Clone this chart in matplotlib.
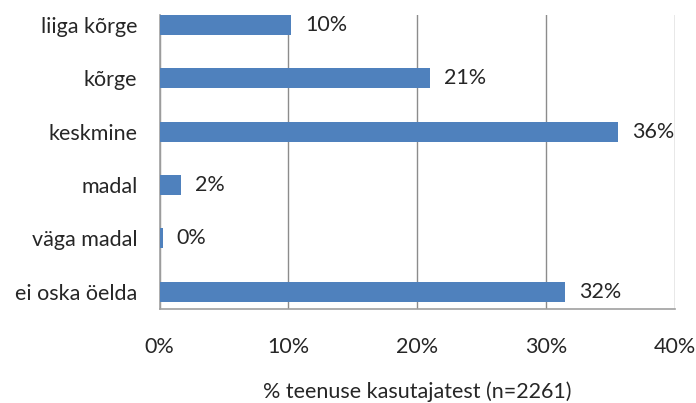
import matplotlib
matplotlib.use("Agg")
import matplotlib.pyplot as plt
from matplotlib.ticker import FuncFormatter

categories = ["liiga kõrge", "kõrge", "keskmine", "madal", "väga madal", "ei oska öelda"]
values = [10.2, 21.0, 35.6, 1.7, 0.25, 31.5]
labels = ["10%", "21%", "36%", "2%", "0%", "32%"]
xticks = [0, 10, 20, 30, 40]
xlabel = "% teenuse kasutajatest (n=2261)"

plt.rcParams['font.family'] = ['Lato', 'DejaVu Sans']

fig = plt.figure(figsize=(6.96, 4.03), dpi=100)
W, H = 696, 403
left, right, top, bottom = 159.5, 675, 15, 309
ax = fig.add_axes([left / W, 1 - bottom / H, (right - left) / W, (bottom - top) / H])

FS = 15.5
TC = "#262626"

pos = list(range(len(categories)))
ax.barh(pos, values, height=0.375, color="#4F81BD", zorder=3)
ax.set_ylim(len(categories) - 1 + 0.325, -0.19)
ax.set_xlim(0, 40)

ax.set_xticks(xticks)
ax.xaxis.set_major_formatter(FuncFormatter(lambda v, p: f"{int(v)}%"))
ax.set_yticks(pos)
ax.set_yticklabels(categories)
ax.tick_params(axis='both', length=0, labelsize=FS, colors=TC)
ax.tick_params(axis='y', pad=16)
ax.tick_params(axis='x', pad=20)

ax.grid(axis='x', color="#8C8C8C", linewidth=1.0, zorder=0)
for s in ["top", "right"]:
    ax.spines[s].set_visible(False)
ax.spines["left"].set_color("#A0A0A0")
ax.spines["bottom"].set_color("#A0A0A0")
ax.spines["left"].set_linewidth(1.2)
ax.spines["bottom"].set_linewidth(1.2)

for p, v, t in zip(pos, values, labels):
    ax.annotate(t, (v, p), xytext=(10, 0), textcoords="offset points",
                va="center", ha="left", fontsize=FS, color=TC)

ax.set_xlabel(xlabel, fontsize=FS, color=TC, labelpad=18)

fig.savefig("out.png", dpi=100)
